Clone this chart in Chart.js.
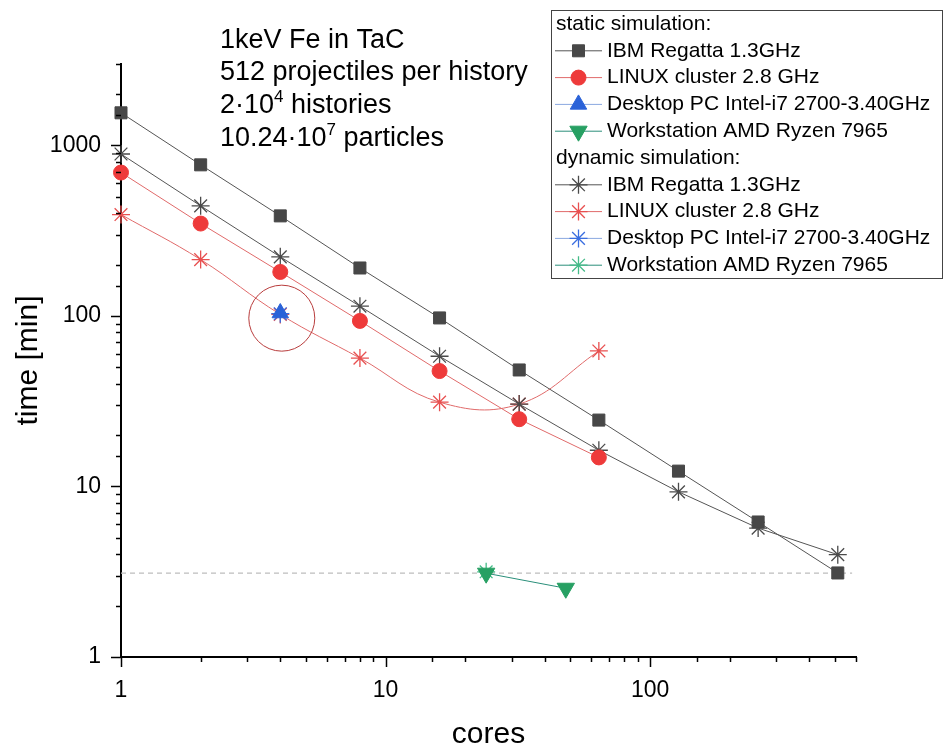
<!DOCTYPE html>
<html>
<head>
<meta charset="utf-8">
<script src="https://cdn.jsdelivr.net/npm/chart.js"></script>
<style>
html,body{margin:0;padding:0;background:#fff;}
#wrap{width:945px;height:747px;position:relative;}
</style>
</head>
<body>
<div id="wrap"><canvas id="c" width="945" height="747"></canvas></div>
<script>
// ---- data ----
const coresIBM = [1, 2, 4, 8, 16, 32, 64, 128, 256, 512];
const ibmStatic = [1552, 769, 386, 191, 97.3, 48.2, 24.5, 12.3, 6.19, 3.11];
const ibmDynamic = [890, 442, 222, 114, 58, 30.4, 16.3, 9.3, 5.7, 3.98];
const coresLinux = [1, 2, 4, 8, 16, 32, 64];
const linuxStatic = [693, 348, 181, 93.5, 47.5, 24.8, 14.8];
const linuxDynamic = [393, 214, 102, 56.6, 31.2, 30.4, 62.3];
const coresDesktop = [4];
const desktopStatic = [104];
const desktopDynamic = [103];
const coresAMD = [24, 48];
const amdStatic = [3.1, 2.53];
const coresAMDDyn = [24];
const amdDynamic = [3.16];
const refLineX = [1, 580];
const refLineY = [3.1, 3.1];
const circleCenter = {x: 4, y: 97};
const xTickLabels = [1, 10, 100];
const yTickLabels = [1, 10, 100, 1000];
const annotationLines = [
  ["1keV Fe in TaC"],
  ["512 projectiles per history"],
  ["2·10", "4", " histories"],
  ["10.24·10", "7", " particles"]
];
const legendRows = [
  {header: "static simulation:"},
  {label: "IBM Regatta 1.3GHz", key: "ibmS"},
  {label: "LINUX cluster 2.8 GHz", key: "linS"},
  {label: "Desktop PC Intel-i7 2700-3.40GHz", key: "deskS"},
  {label: "Workstation AMD Ryzen 7965", key: "amdS"},
  {header: "dynamic simulation:"},
  {label: "IBM Regatta 1.3GHz", key: "ibmD"},
  {label: "LINUX cluster 2.8 GHz", key: "linD"},
  {label: "Desktop PC Intel-i7 2700-3.40GHz", key: "deskD"},
  {label: "Workstation AMD Ryzen 7965", key: "amdD"}
];

const FONT = "'Liberation Sans', Arial, sans-serif";
const pts = (xs, ys) => xs.map((x, i) => ({x: x, y: ys[i]}));

const styles = {
  ibmS:  {pointStyle: 'rect', radius: 8.5, rotation: 0, bg: '#474747', fg: '#474747', line: '#555555'},
  linS:  {pointStyle: 'circle', radius: 7.5, rotation: 0, bg: '#ee3a3a', fg: '#ee3a3a', line: '#e06a6a'},
  deskS: {pointStyle: 'triangle', radius: 9.5, rotation: 0, bg: '#2a62d8', fg: '#2a62d8', line: '#8aa8e0'},
  amdS:  {pointStyle: 'triangle', radius: 10, rotation: 180, bg: '#27a063', fg: '#27a063', line: '#2a8f7a'},
  ibmD:  {pointStyle: 'star', radius: 9, rotation: 0, bg: '#4a4a4a', fg: '#4a4a4a', line: '#555555'},
  linD:  {pointStyle: 'star', radius: 9, rotation: 0, bg: '#e85050', fg: '#e85050', line: '#e06a6a'},
  deskD: {pointStyle: 'star', radius: 9, rotation: 0, bg: '#3a6ee0', fg: '#3a6ee0', line: '#8aa8e0'},
  amdD:  {pointStyle: 'star', radius: 9, rotation: 0, bg: '#44bb88', fg: '#44bb88', line: '#2a8f7a'}
};

function ds(key, data, extra) {
  const s = styles[key];
  return Object.assign({
    data: data,
    borderColor: s.line,
    borderWidth: 1,
    pointStyle: s.pointStyle,
    pointRotation: s.rotation,
    pointRadius: s.radius,
    pointBackgroundColor: s.bg,
    pointBorderColor: s.fg,
    pointBorderWidth: s.pointStyle === 'star' ? 1.3 : 1,
    showLine: true,
    tension: 0,
    fill: false,
    clip: false
  }, extra || {});
}

const datasets = [
  ds('deskS', pts(coresDesktop, desktopStatic)),
  ds('amdS', pts(coresAMD, amdStatic)),
  ds('ibmS', pts(coresIBM, ibmStatic)),
  ds('linS', pts(coresLinux, linuxStatic)),
  ds('deskD', pts(coresDesktop, desktopDynamic)),
  ds('amdD', pts(coresAMDDyn, amdDynamic)),
  ds('ibmD', pts(coresIBM, ibmDynamic)),
  ds('linD', pts(coresLinux, linuxDynamic), {tension: 0.4}),
  {data: pts(refLineX, refLineY), borderColor: '#bdbdbd', borderWidth: 1.2, borderDash: [5, 4], pointRadius: 0, showLine: true, fill: false}
];

const isDecade = v => Math.abs(Math.log10(v) - Math.round(Math.log10(v))) < 1e-9;

const decorPlugin = {
  id: 'decor',
  afterDraw(chart) {
    const ctx = chart.ctx;
    const xs = chart.scales.x, ys = chart.scales.y;
    const ca = chart.chartArea;
    ctx.save();
    // tick marks
    ctx.strokeStyle = '#000';
    ctx.lineWidth = 1.5;
    xs.ticks.forEach(t => {
      const px = Math.round(xs.getPixelForValue(t.value)) + 0.5;
      const len = isDecade(t.value) ? 10 : 5;
      ctx.beginPath(); ctx.moveTo(px, ca.bottom); ctx.lineTo(px, ca.bottom + len); ctx.stroke();
    });
    ys.ticks.forEach(t => {
      const py = Math.round(ys.getPixelForValue(t.value)) + 0.5;
      const len = isDecade(t.value) ? 10 : 5;
      ctx.beginPath(); ctx.moveTo(ca.left, py); ctx.lineTo(ca.left - len, py); ctx.stroke();
    });
    // axis titles
    ctx.fillStyle = '#000';
    ctx.font = '30px ' + FONT;
    ctx.textAlign = 'center';
    ctx.textBaseline = 'alphabetic';
    ctx.fillText('cores', (ca.left + ca.right) / 2, 743);
    ctx.save();
    ctx.translate(37, (ca.top + ca.bottom) / 2);
    ctx.rotate(-Math.PI / 2);
    ctx.fillText('time [min]', 0, 0);
    ctx.restore();
    // annotation circle
    const cx = xs.getPixelForValue(circleCenter.x), cy = ys.getPixelForValue(circleCenter.y);
    ctx.strokeStyle = '#b83c3c';
    ctx.lineWidth = 1;
    ctx.beginPath(); ctx.arc(cx + 1.5, cy, 33, 0, Math.PI * 2); ctx.stroke();
    // annotation text
    ctx.textAlign = 'left';
    const baselines = [48, 80, 113, 146];
    annotationLines.forEach((parts, i) => {
      let x = 220;
      const y = baselines[i];
      parts.forEach((p, j) => {
        const sup = parts.length === 3 && j === 1;
        ctx.font = (sup ? '17px ' : '27px ') + FONT;
        ctx.fillText(p, x, sup ? y - 11 : y);
        x += ctx.measureText(p).width;
      });
    });
    // legend
    const lx = 551, ly = 10, lw = 391, lh = 268;
    ctx.fillStyle = '#fff';
    ctx.fillRect(lx, ly, lw, lh);
    ctx.strokeStyle = '#444';
    ctx.lineWidth = 1;
    ctx.strokeRect(lx + 0.5, ly + 0.5, lw, lh);
    ctx.font = '21px ' + FONT;
    ctx.textBaseline = 'middle';
    legendRows.forEach((r, i) => {
      const y = 24 + i * 26.8;
      if (r.header) {
        ctx.fillStyle = '#000';
        ctx.fillText(r.header, 556, y);
        return;
      }
      const s = styles[r.key];
      ctx.strokeStyle = s.line;
      ctx.lineWidth = 1;
      ctx.beginPath(); ctx.moveTo(555, y); ctx.lineTo(602, y); ctx.stroke();
      ctx.fillStyle = s.bg;
      ctx.strokeStyle = s.fg;
      ctx.lineWidth = s.pointStyle === 'star' ? 1.3 : 1;
      Chart.helpers.drawPoint(ctx, {pointStyle: s.pointStyle, rotation: s.rotation, radius: s.radius, borderWidth: ctx.lineWidth}, 578.5, y);
      ctx.fillStyle = '#000';
      ctx.fillText(r.label, 607, y);
    });
    ctx.restore();
  }
};

new Chart(document.getElementById('c'), {
  type: 'scatter',
  data: {datasets: datasets},
  options: {
    responsive: false,
    animation: false,
    layout: {padding: {top: 64, right: 89, left: 0, bottom: 0}},
    plugins: {legend: {display: false}, tooltip: {enabled: false}},
    scales: {
      x: {
        type: 'logarithmic',
        min: 1, max: 600,
        afterFit: s => { s.height = 90; },
        grid: {display: false, drawTicks: false, tickLength: 0},
        border: {display: true, color: '#000', width: 2},
        ticks: {
          autoSkip: false, maxRotation: 0, padding: 20,
          color: '#000', font: {family: FONT, size: 23},
          callback: v => xTickLabels.includes(v) ? String(v) : ''
        }
      },
      y: {
        type: 'logarithmic',
        min: 1, max: 3000,
        afterFit: s => { s.width = 121; },
        grid: {display: false, drawTicks: false, tickLength: 0},
        border: {display: true, color: '#000', width: 2},
        ticks: {
          autoSkip: false, padding: 20,
          color: '#000', font: {family: FONT, size: 23},
          callback: v => yTickLabels.includes(v) ? String(v) : ''
        }
      }
    }
  },
  plugins: [decorPlugin]
});
</script>
</body>
</html>
